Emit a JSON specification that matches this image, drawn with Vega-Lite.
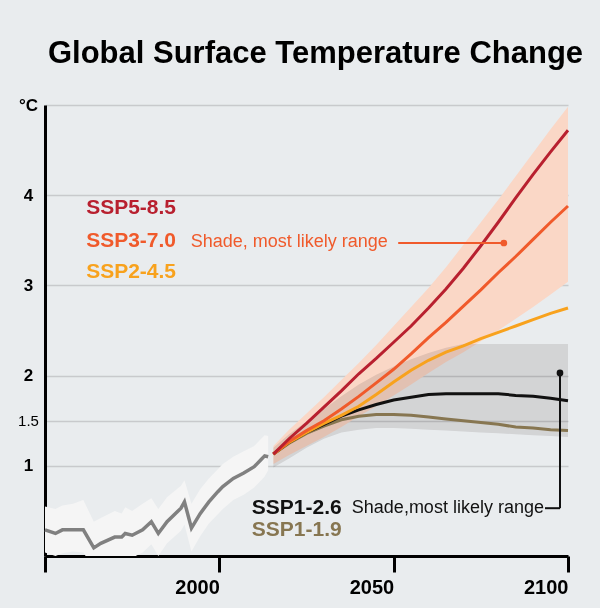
{
  "$schema": "https://vega.github.io/schema/vega-lite/v6.json",
  "width": 523,
  "height": 451,
  "autosize": {"type": "none"},
  "padding": {"left": 45, "top": 105, "right": 32, "bottom": 52},
  "background": "#e9ecee",
  "config": {"view": {"stroke": null}, "font": "Liberation Sans"},
  "title": {
    "text": "Global Surface Temperature Change",
    "font": "Liberation Sans",
    "fontSize": 31,
    "fontWeight": "bold",
    "color": "#000000",
    "anchor": "middle",
    "dx": 9,
    "offset": 26
  },
  "datasets": {
    "historical": [
      {"year": 1950, "temp": 0.29, "lo": 0.04, "hi": 0.55},
      {"year": 1953, "temp": 0.25, "lo": 0.0, "hi": 0.52},
      {"year": 1955, "temp": 0.29, "lo": 0.03, "hi": 0.56},
      {"year": 1958, "temp": 0.29, "lo": 0.05, "hi": 0.58},
      {"year": 1961, "temp": 0.29, "lo": 0.04, "hi": 0.62},
      {"year": 1964, "temp": 0.09, "lo": -0.15, "hi": 0.38},
      {"year": 1966, "temp": 0.14, "lo": -0.1, "hi": 0.42},
      {"year": 1970, "temp": 0.21, "lo": -0.03, "hi": 0.5},
      {"year": 1972, "temp": 0.21, "lo": -0.04, "hi": 0.47},
      {"year": 1973, "temp": 0.25, "lo": 0.0, "hi": 0.54},
      {"year": 1975, "temp": 0.23, "lo": -0.02, "hi": 0.5},
      {"year": 1978, "temp": 0.29, "lo": 0.04, "hi": 0.58},
      {"year": 1980.5, "temp": 0.38, "lo": 0.13, "hi": 0.64},
      {"year": 1982.5, "temp": 0.25, "lo": 0.0, "hi": 0.52},
      {"year": 1985, "temp": 0.38, "lo": 0.14, "hi": 0.65},
      {"year": 1989, "temp": 0.53, "lo": 0.28, "hi": 0.78},
      {"year": 1990, "temp": 0.6, "lo": 0.35, "hi": 0.84},
      {"year": 1992, "temp": 0.31, "lo": 0.05, "hi": 0.58},
      {"year": 1994.5, "temp": 0.47, "lo": 0.22, "hi": 0.74},
      {"year": 1997, "temp": 0.6, "lo": 0.36, "hi": 0.86},
      {"year": 1999.5, "temp": 0.71, "lo": 0.46, "hi": 0.96},
      {"year": 2001, "temp": 0.77, "lo": 0.52, "hi": 1.02},
      {"year": 2004, "temp": 0.86, "lo": 0.62, "hi": 1.1},
      {"year": 2007, "temp": 0.92, "lo": 0.68, "hi": 1.16},
      {"year": 2010, "temp": 0.99, "lo": 0.76, "hi": 1.22},
      {"year": 2012, "temp": 1.07, "lo": 0.84, "hi": 1.3},
      {"year": 2013, "temp": 1.11, "lo": 0.88, "hi": 1.34},
      {"year": 2014, "temp": 1.1, "lo": 0.95, "hi": 1.33}
    ],
    "bands": [
      {"band": "SSP3-7.0", "year": 2015.5, "lo": 1.02, "hi": 1.22},
      {"band": "SSP3-7.0", "year": 2020, "lo": 1.12, "hi": 1.4},
      {"band": "SSP3-7.0", "year": 2025, "lo": 1.22, "hi": 1.58},
      {"band": "SSP3-7.0", "year": 2030, "lo": 1.32, "hi": 1.76},
      {"band": "SSP3-7.0", "year": 2035, "lo": 1.43, "hi": 1.95},
      {"band": "SSP3-7.0", "year": 2040, "lo": 1.55, "hi": 2.14},
      {"band": "SSP3-7.0", "year": 2045, "lo": 1.66, "hi": 2.34},
      {"band": "SSP3-7.0", "year": 2050, "lo": 1.78, "hi": 2.55},
      {"band": "SSP3-7.0", "year": 2055, "lo": 1.9, "hi": 2.76},
      {"band": "SSP3-7.0", "year": 2060, "lo": 2.03, "hi": 2.97},
      {"band": "SSP3-7.0", "year": 2065, "lo": 2.15, "hi": 3.2},
      {"band": "SSP3-7.0", "year": 2070, "lo": 2.26, "hi": 3.45},
      {"band": "SSP3-7.0", "year": 2075, "lo": 2.38, "hi": 3.7},
      {"band": "SSP3-7.0", "year": 2080, "lo": 2.5, "hi": 3.95},
      {"band": "SSP3-7.0", "year": 2085, "lo": 2.63, "hi": 4.21},
      {"band": "SSP3-7.0", "year": 2090, "lo": 2.76, "hi": 4.47},
      {"band": "SSP3-7.0", "year": 2095, "lo": 2.9, "hi": 4.73},
      {"band": "SSP3-7.0", "year": 2100, "lo": 3.04, "hi": 4.98},
      {"band": "SSP1-2.6", "year": 2015.5, "lo": 0.98, "hi": 1.2},
      {"band": "SSP1-2.6", "year": 2020, "lo": 1.08, "hi": 1.35},
      {"band": "SSP1-2.6", "year": 2025, "lo": 1.2, "hi": 1.49},
      {"band": "SSP1-2.6", "year": 2030, "lo": 1.3, "hi": 1.63},
      {"band": "SSP1-2.6", "year": 2035, "lo": 1.37, "hi": 1.77},
      {"band": "SSP1-2.6", "year": 2040, "lo": 1.4, "hi": 1.9},
      {"band": "SSP1-2.6", "year": 2045, "lo": 1.42, "hi": 2.01},
      {"band": "SSP1-2.6", "year": 2050, "lo": 1.42, "hi": 2.1},
      {"band": "SSP1-2.6", "year": 2055, "lo": 1.41, "hi": 2.18},
      {"band": "SSP1-2.6", "year": 2060, "lo": 1.4, "hi": 2.25},
      {"band": "SSP1-2.6", "year": 2065, "lo": 1.39, "hi": 2.31},
      {"band": "SSP1-2.6", "year": 2070, "lo": 1.38, "hi": 2.35},
      {"band": "SSP1-2.6", "year": 2075, "lo": 1.37, "hi": 2.35},
      {"band": "SSP1-2.6", "year": 2080, "lo": 1.36, "hi": 2.35},
      {"band": "SSP1-2.6", "year": 2085, "lo": 1.35, "hi": 2.35},
      {"band": "SSP1-2.6", "year": 2090, "lo": 1.34, "hi": 2.35},
      {"band": "SSP1-2.6", "year": 2095, "lo": 1.33, "hi": 2.35},
      {"band": "SSP1-2.6", "year": 2100, "lo": 1.32, "hi": 2.35}
    ],
    "scenarios": [
      {"scenario": "SSP1-1.9", "year": 2015.5, "temp": 1.13},
      {"scenario": "SSP1-1.9", "year": 2020, "temp": 1.25},
      {"scenario": "SSP1-1.9", "year": 2025, "temp": 1.36},
      {"scenario": "SSP1-1.9", "year": 2030, "temp": 1.44},
      {"scenario": "SSP1-1.9", "year": 2035, "temp": 1.51},
      {"scenario": "SSP1-1.9", "year": 2040, "temp": 1.55},
      {"scenario": "SSP1-1.9", "year": 2045, "temp": 1.57},
      {"scenario": "SSP1-1.9", "year": 2050, "temp": 1.57},
      {"scenario": "SSP1-1.9", "year": 2055, "temp": 1.56},
      {"scenario": "SSP1-1.9", "year": 2060, "temp": 1.54},
      {"scenario": "SSP1-1.9", "year": 2065, "temp": 1.52},
      {"scenario": "SSP1-1.9", "year": 2070, "temp": 1.5},
      {"scenario": "SSP1-1.9", "year": 2075, "temp": 1.48},
      {"scenario": "SSP1-1.9", "year": 2080, "temp": 1.46},
      {"scenario": "SSP1-1.9", "year": 2085, "temp": 1.43},
      {"scenario": "SSP1-1.9", "year": 2090, "temp": 1.42},
      {"scenario": "SSP1-1.9", "year": 2095, "temp": 1.4},
      {"scenario": "SSP1-1.9", "year": 2100, "temp": 1.39},
      {"scenario": "SSP1-2.6", "year": 2015.5, "temp": 1.13},
      {"scenario": "SSP1-2.6", "year": 2020, "temp": 1.26},
      {"scenario": "SSP1-2.6", "year": 2025, "temp": 1.37},
      {"scenario": "SSP1-2.6", "year": 2030, "temp": 1.46},
      {"scenario": "SSP1-2.6", "year": 2035, "temp": 1.55},
      {"scenario": "SSP1-2.6", "year": 2040, "temp": 1.62},
      {"scenario": "SSP1-2.6", "year": 2045, "temp": 1.68},
      {"scenario": "SSP1-2.6", "year": 2050, "temp": 1.73},
      {"scenario": "SSP1-2.6", "year": 2055, "temp": 1.76},
      {"scenario": "SSP1-2.6", "year": 2060, "temp": 1.79},
      {"scenario": "SSP1-2.6", "year": 2065, "temp": 1.8},
      {"scenario": "SSP1-2.6", "year": 2070, "temp": 1.8},
      {"scenario": "SSP1-2.6", "year": 2075, "temp": 1.8},
      {"scenario": "SSP1-2.6", "year": 2080, "temp": 1.8},
      {"scenario": "SSP1-2.6", "year": 2085, "temp": 1.78},
      {"scenario": "SSP1-2.6", "year": 2090, "temp": 1.77},
      {"scenario": "SSP1-2.6", "year": 2095, "temp": 1.75},
      {"scenario": "SSP1-2.6", "year": 2100, "temp": 1.72},
      {"scenario": "SSP2-4.5", "year": 2015.5, "temp": 1.13},
      {"scenario": "SSP2-4.5", "year": 2020, "temp": 1.26},
      {"scenario": "SSP2-4.5", "year": 2025, "temp": 1.37},
      {"scenario": "SSP2-4.5", "year": 2030, "temp": 1.47},
      {"scenario": "SSP2-4.5", "year": 2035, "temp": 1.56},
      {"scenario": "SSP2-4.5", "year": 2040, "temp": 1.66},
      {"scenario": "SSP2-4.5", "year": 2045, "temp": 1.79},
      {"scenario": "SSP2-4.5", "year": 2050, "temp": 1.93},
      {"scenario": "SSP2-4.5", "year": 2055, "temp": 2.06},
      {"scenario": "SSP2-4.5", "year": 2060, "temp": 2.17},
      {"scenario": "SSP2-4.5", "year": 2065, "temp": 2.26},
      {"scenario": "SSP2-4.5", "year": 2070, "temp": 2.33},
      {"scenario": "SSP2-4.5", "year": 2075, "temp": 2.41},
      {"scenario": "SSP2-4.5", "year": 2080, "temp": 2.48},
      {"scenario": "SSP2-4.5", "year": 2085, "temp": 2.55},
      {"scenario": "SSP2-4.5", "year": 2090, "temp": 2.62},
      {"scenario": "SSP2-4.5", "year": 2095, "temp": 2.69},
      {"scenario": "SSP2-4.5", "year": 2100, "temp": 2.75},
      {"scenario": "SSP3-7.0", "year": 2015.5, "temp": 1.13},
      {"scenario": "SSP3-7.0", "year": 2020, "temp": 1.27},
      {"scenario": "SSP3-7.0", "year": 2025, "temp": 1.39},
      {"scenario": "SSP3-7.0", "year": 2030, "temp": 1.5},
      {"scenario": "SSP3-7.0", "year": 2035, "temp": 1.63},
      {"scenario": "SSP3-7.0", "year": 2040, "temp": 1.77},
      {"scenario": "SSP3-7.0", "year": 2045, "temp": 1.92},
      {"scenario": "SSP3-7.0", "year": 2050, "temp": 2.07},
      {"scenario": "SSP3-7.0", "year": 2055, "temp": 2.24},
      {"scenario": "SSP3-7.0", "year": 2060, "temp": 2.42},
      {"scenario": "SSP3-7.0", "year": 2065, "temp": 2.59},
      {"scenario": "SSP3-7.0", "year": 2070, "temp": 2.77},
      {"scenario": "SSP3-7.0", "year": 2075, "temp": 2.95},
      {"scenario": "SSP3-7.0", "year": 2080, "temp": 3.14},
      {"scenario": "SSP3-7.0", "year": 2085, "temp": 3.32},
      {"scenario": "SSP3-7.0", "year": 2090, "temp": 3.51},
      {"scenario": "SSP3-7.0", "year": 2095, "temp": 3.7},
      {"scenario": "SSP3-7.0", "year": 2100, "temp": 3.88},
      {"scenario": "SSP5-8.5", "year": 2015.5, "temp": 1.13},
      {"scenario": "SSP5-8.5", "year": 2020, "temp": 1.3},
      {"scenario": "SSP5-8.5", "year": 2025, "temp": 1.47},
      {"scenario": "SSP5-8.5", "year": 2030, "temp": 1.65},
      {"scenario": "SSP5-8.5", "year": 2035, "temp": 1.83},
      {"scenario": "SSP5-8.5", "year": 2040, "temp": 2.02},
      {"scenario": "SSP5-8.5", "year": 2045, "temp": 2.19},
      {"scenario": "SSP5-8.5", "year": 2050, "temp": 2.37},
      {"scenario": "SSP5-8.5", "year": 2055, "temp": 2.55},
      {"scenario": "SSP5-8.5", "year": 2060, "temp": 2.75},
      {"scenario": "SSP5-8.5", "year": 2065, "temp": 2.96},
      {"scenario": "SSP5-8.5", "year": 2070, "temp": 3.19},
      {"scenario": "SSP5-8.5", "year": 2075, "temp": 3.44},
      {"scenario": "SSP5-8.5", "year": 2080, "temp": 3.7},
      {"scenario": "SSP5-8.5", "year": 2085, "temp": 3.97},
      {"scenario": "SSP5-8.5", "year": 2090, "temp": 4.23},
      {"scenario": "SSP5-8.5", "year": 2095, "temp": 4.48},
      {"scenario": "SSP5-8.5", "year": 2100, "temp": 4.72}
    ],
    "labels": [
      {"text": "SSP5-8.5", "scenario": "SSP5-8.5", "kind": "name", "year": 1961.8, "temp": 3.86},
      {"text": "SSP3-7.0", "scenario": "SSP3-7.0", "kind": "name", "year": 1961.8, "temp": 3.49},
      {"text": "SSP2-4.5", "scenario": "SSP2-4.5", "kind": "name", "year": 1961.8, "temp": 3.15},
      {"text": "SSP1-2.6", "scenario": "SSP1-2.6", "kind": "name", "year": 2009.3, "temp": 0.53},
      {"text": "SSP1-1.9", "scenario": "SSP1-1.9", "kind": "name", "year": 2009.3, "temp": 0.29},
      {"text": "Shade, most likely range", "scenario": "SSP3-7.0", "kind": "note", "year": 1991.8, "temp": 3.48},
      {"text": "Shade,most likely range", "scenario": "SSP1-2.6", "kind": "note", "year": 2038.0, "temp": 0.53}
    ],
    "connectors": [
      {"scenario": "SSP3-7.0", "year": 2051.3, "temp": 3.47, "year2": 2081.6, "temp2": 3.47},
      {"scenario": "SSP1-2.6", "year": 2093.4, "temp": 0.53, "year2": 2097.7, "temp2": 0.53},
      {"scenario": "SSP1-2.6", "year": 2097.7, "temp": 0.53, "year2": 2097.7, "temp2": 2.03}
    ],
    "dots": [
      {"scenario": "SSP3-7.0", "year": 2081.6, "temp": 3.47},
      {"scenario": "SSP1-2.6", "year": 2097.7, "temp": 2.03}
    ]
  },
  "encoding": {
    "x": {
      "field": "year",
      "type": "quantitative",
      "scale": {"domain": [1950, 2100], "nice": false, "zero": false},
      "axis": {
        "title": null,
        "values": [1950, 2000, 2050, 2100],
        "format": "d",
        "labelExpr": "datum.value == 1950 ? '' : datum.label",
        "grid": false,
        "domainColor": "#000000",
        "domainWidth": 3,
        "tickColor": "#000000",
        "tickWidth": 3,
        "tickSize": 16,
        "labelAlign": "right",
        "labelBaseline": "top",
        "labelPadding": 5,
        "labelFont": "Liberation Sans",
        "labelFontSize": 20,
        "labelFontWeight": "bold",
        "labelColor": "#000000",
        "labelFlush": false,
        "labelOverlap": false
      }
    },
    "y": {
      "field": "temp",
      "type": "quantitative",
      "scale": {"domain": [0, 5], "nice": false, "zero": false},
      "axis": {
        "title": null,
        "values": [1, 1.5, 2, 3, 4, 5],
        "labelExpr": "datum.value == 5 ? '°C' : (datum.value == 1.5 ? '1.5' : format(datum.value, 'd'))",
        "grid": true,
        "gridColor": "#c8cacc",
        "gridWidth": 1.5,
        "domainColor": "#000000",
        "domainWidth": 3,
        "ticks": false,
        "tickSize": 0,
        "labelAlign": "center",
        "labelBaseline": "middle",
        "labelPadding": 17,
        "labelFont": "Liberation Sans",
        "labelFontSize": {"condition": {"test": "datum.value == 1.5", "value": 15}, "value": 17},
        "labelFontWeight": {"condition": {"test": "datum.value == 1.5", "value": "normal"}, "value": "bold"},
        "labelColor": "#000000",
        "labelOverlap": false
      }
    }
  },
  "layer": [
    {
      "data": {"name": "historical"},
      "mark": {"type": "area", "color": "#f5f5f5", "clip": true},
      "encoding": {"y": {"field": "lo", "type": "quantitative"}, "y2": {"field": "hi"}}
    },
    {
      "data": {"name": "bands"},
      "transform": [{"filter": "datum.band == 'SSP3-7.0'"}],
      "mark": {"type": "area", "color": "#fad7c6"},
      "encoding": {"y": {"field": "lo", "type": "quantitative"}, "y2": {"field": "hi"}}
    },
    {
      "data": {"name": "bands"},
      "transform": [{"filter": "datum.band == 'SSP1-2.6'"}],
      "mark": {"type": "area", "color": "#e7e5e5", "blend": "multiply"},
      "encoding": {"y": {"field": "lo", "type": "quantitative"}, "y2": {"field": "hi"}}
    },
    {
      "data": {"name": "historical"},
      "mark": {"type": "line", "color": "#808080", "strokeWidth": 3.5},
      "encoding": {}
    },
    {
      "data": {"name": "scenarios"},
      "mark": {"type": "line", "strokeWidth": 3},
      "encoding": {
        "color": {
          "field": "scenario",
          "type": "nominal",
          "legend": null,
          "scale": {
            "domain": ["SSP5-8.5", "SSP3-7.0", "SSP2-4.5", "SSP1-2.6", "SSP1-1.9"],
            "range": ["#b8202f", "#f05a2b", "#f8a21d", "#111111", "#877651"]
          }
        }
      }
    },
    {
      "data": {"name": "connectors"},
      "mark": {"type": "rule", "strokeWidth": 2},
      "encoding": {
        "x2": {"field": "year2"},
        "y2": {"field": "temp2"},
        "color": {"field": "scenario", "type": "nominal", "legend": null}
      }
    },
    {
      "data": {"name": "dots"},
      "mark": {"type": "point", "filled": true, "opacity": 1, "size": 45},
      "encoding": {"color": {"field": "scenario", "type": "nominal", "legend": null}}
    },
    {
      "data": {"name": "labels"},
      "transform": [{"filter": "datum.kind == 'name'"}],
      "mark": {"type": "text", "align": "left", "baseline": "middle", "font": "Liberation Sans", "fontSize": 21, "fontWeight": "bold"},
      "encoding": {
        "text": {"field": "text"},
        "color": {"field": "scenario", "type": "nominal", "legend": null}
      }
    },
    {
      "data": {"name": "labels"},
      "transform": [{"filter": "datum.kind == 'note'"}],
      "mark": {"type": "text", "align": "left", "baseline": "middle", "font": "Liberation Sans", "fontSize": 18, "fontWeight": "normal"},
      "encoding": {
        "text": {"field": "text"},
        "color": {"field": "scenario", "type": "nominal", "legend": null}
      }
    }
  ]
}
